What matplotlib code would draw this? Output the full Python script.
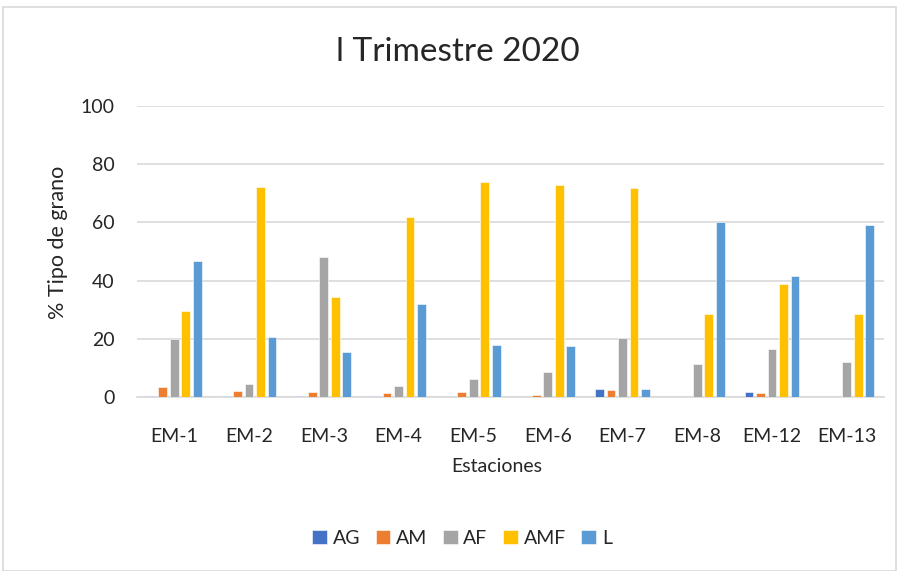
import matplotlib
matplotlib.use("Agg")
import matplotlib.pyplot as plt
import numpy as np
from matplotlib.patches import Rectangle

plt.rcParams['font.family'] = ['Lato', 'DejaVu Sans']

categories = ["EM-1", "EM-2", "EM-3", "EM-4", "EM-5", "EM-6", "EM-7", "EM-8", "EM-12", "EM-13"]
AG  = [0.3, 0.3, 0.3, 0.5, 0.0, 0.0, 2.7, 0.0, 1.7, 0.0]
AM  = [3.3, 2.2, 1.7, 1.5, 1.7, 0.7, 2.3, 0.0, 1.4, 0.0]
AF  = [20.0, 4.5, 48.0, 3.9, 6.2, 8.5, 20.4, 11.4, 16.4, 11.9]
AMF = [29.5, 72.3, 34.5, 61.7, 74.0, 73.0, 71.7, 28.5, 39.0, 28.5]
L   = [46.8, 20.5, 15.3, 32.0, 17.7, 17.5, 2.6, 60.0, 41.5, 59.0]
series_names = ["AG", "AM", "AF", "AMF", "L"]
series = [AG, AM, AF, AMF, L]
colors = ["#4472C4", "#ED7D31", "#A5A5A5", "#FFC000", "#5B9BD5"]

fig = plt.figure(figsize=(8.97, 5.71), dpi=100)
ax = fig.add_axes([137/897, 1-397/571, (884-137)/897, (397-106)/571])

x = np.arange(len(categories))
step = 0.154
width = 0.117
for i, (name, vals, c) in enumerate(zip(series_names, series, colors)):
    ax.bar(x + (i-2)*step, vals, width=width, color=c, label=name,
           edgecolor='white', linewidth=0.4, zorder=3)

ax.set_xlim(-0.5, len(categories)-0.5)
ax.set_ylim(0, 100)
ax.set_yticks(range(0, 101, 20))
ax.yaxis.grid(True, color='#D9D9D9', linewidth=1.2, zorder=0)
ax.set_axisbelow(True)
for s in ['top', 'right', 'left']:
    ax.spines[s].set_visible(False)
ax.spines['bottom'].set_color('#D9D9D9')
ax.spines['bottom'].set_linewidth(1.2)
ax.tick_params(axis='both', length=0, labelsize=14, colors='#262626')
ax.tick_params(axis='x', pad=22)
ax.tick_params(axis='y', pad=16)
ax.set_xticks(x)
ax.set_xticklabels(categories)
ax.set_xlabel("Estaciones", fontsize=14, color='#262626')
ax.xaxis.set_label_coords((497-137)/747, (397-467)/291)
ax.xaxis.label.set_va('center')
ax.set_ylabel("% Tipo de grano", fontsize=15.5, color='#262626')
ax.yaxis.set_label_coords((58-137)/747, 0.53)
ax.yaxis.label.set_va('center')

fig.text(457.5/897, 1-52/571, "l Trimestre 2020", ha='center', va='center', fontsize=24, color='#262626')

leg = fig.legend(loc='center', bbox_to_anchor=(462/897, 1-538/571), ncol=5, frameon=False,
                 fontsize=14, handlelength=0.75, handleheight=0.75, columnspacing=0.8,
                 handletextpad=0.3, borderaxespad=0)
for t in leg.get_texts():
    t.set_color('#262626')

fig.patches.append(Rectangle((3/897, 0), 1-3/897-1/897, 1-7/571, transform=fig.transFigure,
                             fill=False, edgecolor='#D9D9D9', linewidth=1.2))

fig.savefig("out.png", dpi=100, facecolor='white')
